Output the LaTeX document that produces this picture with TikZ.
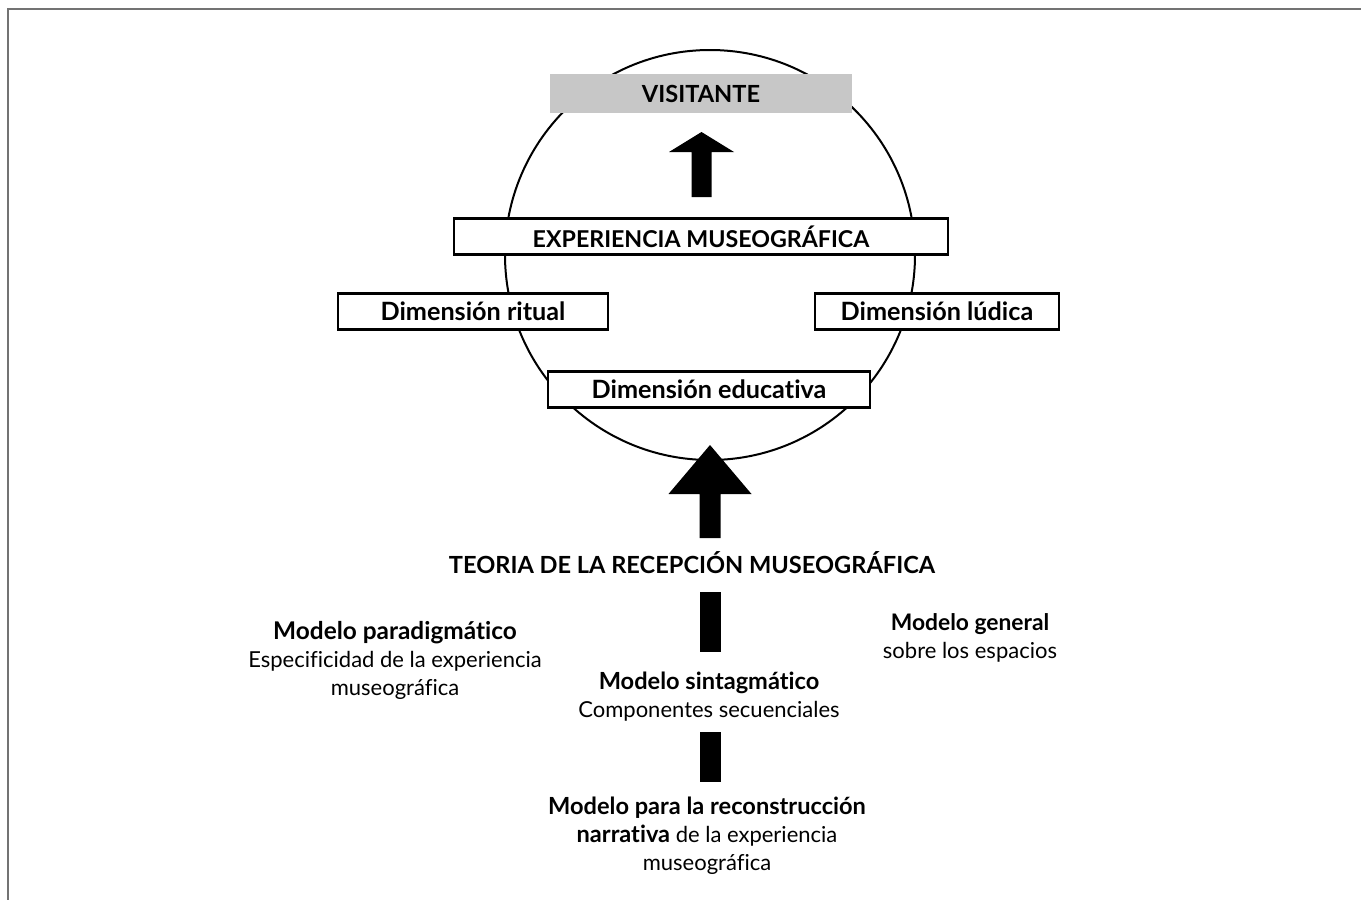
\documentclass[tikz,border=0pt]{standalone}
\usepackage{fontspec}
\setmainfont{Lato}[Ligatures=NoCommon]
\tikzstyle{dimbox}=[draw,line width=1.1pt,fill=white,inner sep=0pt,font=\fontsize{12.6}{14}\selectfont\bfseries]
\tikzstyle{topbox}=[fill=black!22,inner sep=0pt,font=\fontsize{11.8}{14}\selectfont\bfseries]
\tikzstyle{label}=[align=center,inner sep=0pt]

\begin{document}
\begin{tikzpicture}[x=0.5pt,y=-0.5pt,font=\fontsize{11}{14}\selectfont]
    \useasboundingbox (0,0) rectangle (1361,900);

    % frame
    \draw[black!55, line width=1pt] (1361,9) -- (8,9) -- (8,900);

    % circle behind the boxes
    \draw[line width=1pt] (710,255) circle [radius=205];

    \node[topbox, minimum width=151pt, minimum height=19.5pt] (visit) at (701,93.5) {VISITANTE};

    \foreach \x/\y/\w/\fs/\name/\txt in {701/236.5/247/11.6/exp/{EXPERIENCIA MUSEOGRÁFICA},
                                         473/311.5/135/12.6/ritual/{Dimensión ritual},
                                         937/311.5/122/12.6/ludica/{Dimensión lúdica},
                                         709/389.5/161/12.6/educ/{Dimensión educativa}}
        \node[dimbox, font=\fontsize{\fs}{14}\selectfont\bfseries, minimum width=\w pt, minimum height=18pt] (\name) at (\x,\y) {\txt};

    % block arrows
    \foreach \cx/\tip/\base/\bot/\hw/\sw in {701.5/132/152/197/32.5/10, 710/445/494/538/41.5/10.5}
        \fill (\cx,\tip) -- (\cx+\hw,\base) -- (\cx+\sw,\base) -- (\cx+\sw,\bot)
              -- (\cx-\sw,\bot) -- (\cx-\sw,\base) -- (\cx-\hw,\base) -- cycle;

    % bars
    \foreach \top/\bot in {592/652, 732/782}
        \fill (699.5,\top) rectangle (720.5,\bot);

    \node[label, font=\fontsize{11.8}{14}\selectfont\bfseries] (teoria) at (692,563) {TEORIA DE LA RECEPCIÓN MUSEOGRÁFICA};

    \node[label] (parad) at (395,660) {{\fontsize{12.2}{14}\selectfont\bfseries Modelo paradigmático}\\Especificidad de la experiencia\\museográfica};
    \node[label] (general) at (970,638) {{\fontsize{11.4}{14}\selectfont\bfseries Modelo general}\\sobre los espacios};
    \node[label] (sintag) at (709,697) {{\fontsize{11.8}{14}\selectfont\bfseries Modelo sintagmático}\\Componentes secuenciales};
    \node[label] (narr) at (707,836) {{\fontsize{11.8}{14}\selectfont\bfseries Modelo para la reconstrucción}\\{\fontsize{11.8}{14}\selectfont\bfseries narrativa} de la experiencia\\museográfica};

\end{tikzpicture}
\end{document}
